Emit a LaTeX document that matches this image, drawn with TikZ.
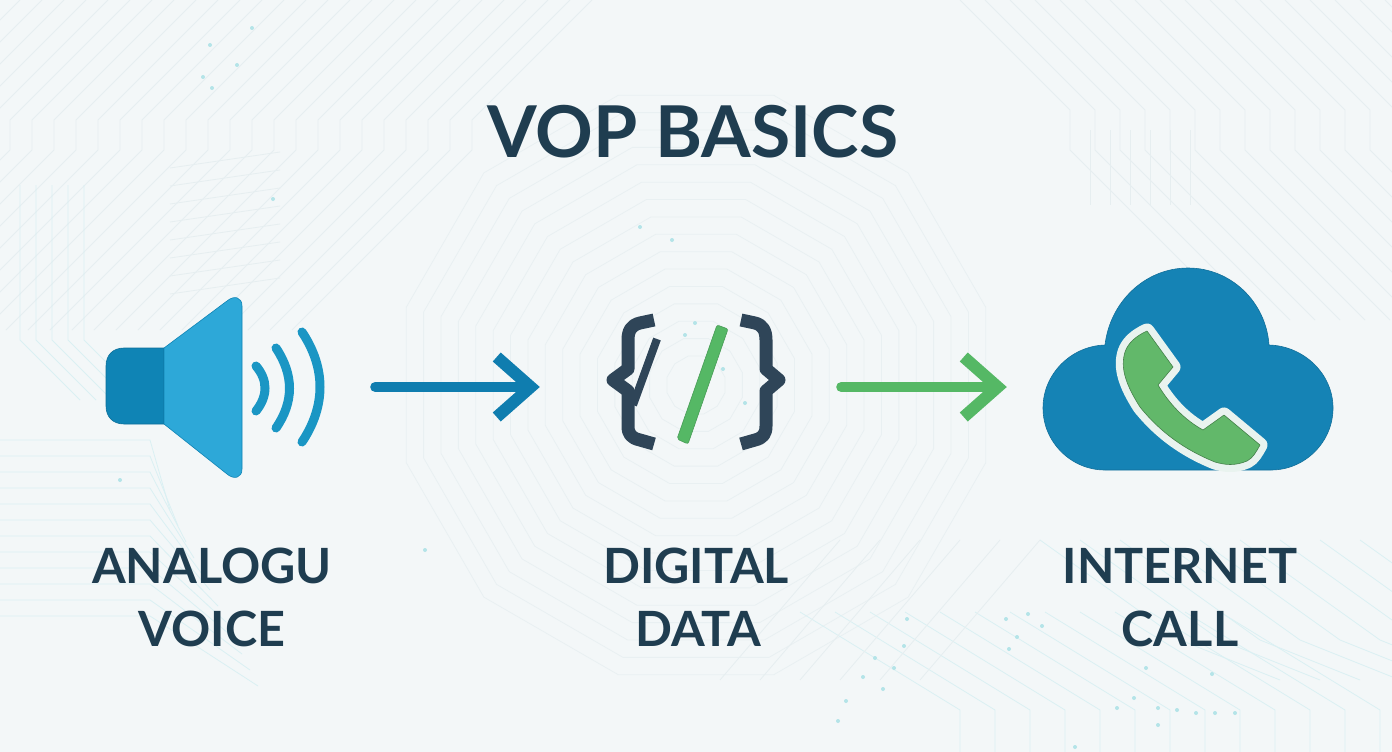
\documentclass[tikz,border=0pt]{standalone}
\usepackage{fontspec}
\setmainfont{Lato}
\usetikzlibrary{arrows.meta}
\definecolor{bgcol}{HTML}{F3F7F8}
\definecolor{tracecol}{HTML}{E6EEF0}
\definecolor{ringcol}{HTML}{E9F0F2}
\definecolor{tracecyan}{HTML}{DAF0F3}
\definecolor{dotcol}{HTML}{B4E4E8}
\definecolor{inkcol}{HTML}{1F3D50}
\definecolor{bracecol}{HTML}{2F4558}
\definecolor{boxblue}{HTML}{0F84B5}
\definecolor{coneblue}{HTML}{2DA8D8}
\definecolor{waveblue}{HTML}{1A96C4}
\definecolor{cloudblue}{HTML}{1583B5}
\definecolor{arrowblue}{HTML}{0F7DAF}
\definecolor{codegreen}{HTML}{55B865}
\definecolor{phonegreen}{HTML}{62B86A}
\definecolor{haloline}{HTML}{E9F3EF}
\tikzset{
  heading/.style={font=\bfseries\fontsize{71.5}{75}\selectfont, text=inkcol, inner sep=0pt},
  caption/.style={font=\bfseries\fontsize{48.6}{52}\selectfont, text=inkcol, inner sep=0pt},
  iconbox/.style={inner sep=0pt, minimum height=180pt},
  trace/.style={tracecol, line width=0.8pt},
  ringline/.style={ringcol, line width=0.8pt},
  tracelight/.style={tracecyan, line width=0.8pt},
  wave/.style={waveblue, line width=9pt, line cap=round},
  brace/.style={bracecol, line width=13pt, line join=round},
  flow/.style={line width=10pt, line cap=round,
    -{Straight Barb[length=34pt,width=60pt,line width=12pt]}},
}
\begin{document}
\begin{tikzpicture}[x=1pt,y=-1pt]

    % Background
    \fill[bgcol] (0,0) rectangle (1392,752);
    \useasboundingbox (0,0) rectangle (1392,752);

    \begin{scope}
    \clip (0,0) rectangle (1392,752);

    % Diagonal traces, top left
    \foreach \d in {20,42,...,600} {
        \draw[trace] (\d,0) -- ({\d-120},120) -- ({\d-120},150) -- ({\d-300},330);
    }
    % Diagonal traces, top right
    \foreach \d in {960,985,...,1440} {
        \draw[trace] (\d,0) -- ({\d+110},110) -- ({\d+110},150) -- ({\d+280},320);
    }
    % Short flat traces on the left
    \foreach \y in {160,178,...,290} {
        \draw[trace] (170,\y+8) -- (280,\y-8);
    }
    % Vertical traces, left and right edges
    \foreach \x in {20,36,...,84} {
        \draw[tracelight] (\x,185) -- (\x,340) -- ({\x+60},400);
    }
    \foreach \x in {1090,1110,...,1190} {
        \draw[trace] (\x,130) -- (\x,205);
    }
    % Rings round the middle icon
    \foreach \r in {30,48,...,310} {
        \draw[ringline] plot[samples=13,domain=0:360] ({696+\r*cos(\x+15)},{385+\r*sin(\x+15)}) -- cycle;
    }
    % Flat traces, bottom left
    \foreach \y in {440,456,...,620} {
        \draw[tracelight] (0,\y) -- (150,\y) -- ({150+(\y-400)/2},{\y+70});
    }
    % Traces, bottom right
    \foreach \d in {800,835,...,1220} {
        \draw[tracelight] (\d,612) -- ({\d+160},710) -- ({\d+160},752);
    }
    \foreach \d in {1040,1080,...,1400} {
        \draw[tracelight] (\d,540) -- ({\d+140},640) -- ({\d+240},680);
    }
    \foreach \d in {840,880,...,1040} {
        \draw[trace] (\d,540) -- ({\d-120},680);
    }
    % Dots on the traces
    \foreach \px/\py in {907/619,904/646,875/658,894/668,863/677,883/689,846/701,838/721,
        1006/619,1028/614,1017/637,1009/649,1042/626,1146/668,1212/674,1134/698,1117/708,
        1158/708,1177/710,1196/713,1215/713,1235/713,1158/725,1075/747,
        252/28,210/45,237/65,203/77,212/88,273/199,695/323,685/335,745/403,723/369,
        672/240,640/227,425/550,120/480} {
        \fill[dotcol] (\px,\py) circle (2);
    }
    \end{scope}

    % Title
    \node[heading] (title) at (693,132) {VOP BASICS};

    % Speaker
    \node[iconbox, minimum width=219pt] (speaker) at (215.5,387) {};
    \draw[boxblue!85!black, fill=boxblue, line width=0.6pt]
        (164,348) -- (124,348) .. controls (113,348) and (106,355) .. (106,366) -- (106,406)
        .. controls (106,417) and (113,424) .. (124,424) -- (164,424) -- cycle;
    \draw[boxblue, fill=coneblue, line width=0.6pt]
        (164,348) -- (227,301) .. controls (234,295) and (242,297) .. (242,306) -- (242,469)
        .. controls (242,478) and (234,480) .. (227,474) -- (164,424) -- cycle;
    \draw[wave] (256,366) .. controls (268,380) and (268,396) .. (256,411);
    \draw[wave] (276,348) .. controls (294,375) and (294,402) .. (276,428);
    \draw[wave] (302,332) .. controls (326,368) and (326,406) .. (302,442);

    % Code symbol
    \node[iconbox, minimum width=181pt] (code) at (697.5,387) {};
    \draw[brace] (654,320) -- (640,323) .. controls (631,325) and (628,331) .. (628,340) -- (628,369) -- (613,380)
        -- (628,391) -- (628,426) .. controls (628,434) and (631,438) .. (640,440) -- (654,444);
    \draw[brace] (741,320) -- (755,323) .. controls (763,325) and (766,331) .. (766,340) -- (766,369) -- (779,380)
        -- (766,391) -- (766,426) .. controls (766,434) and (763,438) .. (755,440) -- (741,444);
    \draw[bracecol, line width=8pt] (657,339) -- (633,405);
    \draw[codegreen!85!black, fill=codegreen, line width=0.6pt, rounded corners=2pt]
        (717,325) -- (728,329) -- (688,444) -- (677,439) -- cycle;

    % Cloud
    \node[iconbox, minimum width=292pt] (cloud) at (1187,387) {};
    \draw[cloudblue!85!black, fill=cloudblue, line width=0.6pt]
        (1105,470) .. controls (1071,470) and (1043,442) .. (1043,408)
        .. controls (1043,374) and (1071,346) .. (1105,345)
        .. controls (1110,302) and (1145,268) .. (1188,268)
        .. controls (1231,268) and (1266,302) .. (1269,345)
        .. controls (1304,346) and (1333,374) .. (1333,408)
        .. controls (1333,442) and (1305,470) .. (1271,470) -- cycle;

    % Handset
    \def\handset{(1147,331) -- (1173,367) -- (1158,385)
        .. controls (1170,405) and (1185,420) .. (1203,430) -- (1224,415) -- (1260,445)
        .. controls (1256,452) and (1253,458) .. (1247,461)
        .. controls (1235,466) and (1225,465) .. (1215,462)
        .. controls (1185,450) and (1160,432) .. (1140,407)
        .. controls (1126,385) and (1120,368) .. (1125,352)
        .. controls (1128,343) and (1136,336) .. (1147,331) -- cycle}
    \draw[haloline, line width=15pt, line join=round] \handset;
    \draw[phonegreen!70!black, fill=phonegreen, line width=0.6pt, line join=round] \handset;

    % Arrows
    \draw[flow, arrowblue, shorten <=50pt, shorten >=67pt] (speaker.east) -- (code.west);
    \draw[flow, codegreen, shorten <=53pt, shorten >=34pt] (code.east) -- (cloud.west);

    % Labels
    \node[caption] (analogue) at (212,566) {ANALOGU};
    \node[caption] (voice) at (212,629) {VOICE};
    \node[caption] (digital) at (696,566) {DIGITAL};
    \node[caption] (data) at (698,629) {DATA};
    \node[caption] (internet) at (1180,566) {INTERNET};
    \node[caption] (call) at (1180,629) {CALL};

\end{tikzpicture}
\end{document}
